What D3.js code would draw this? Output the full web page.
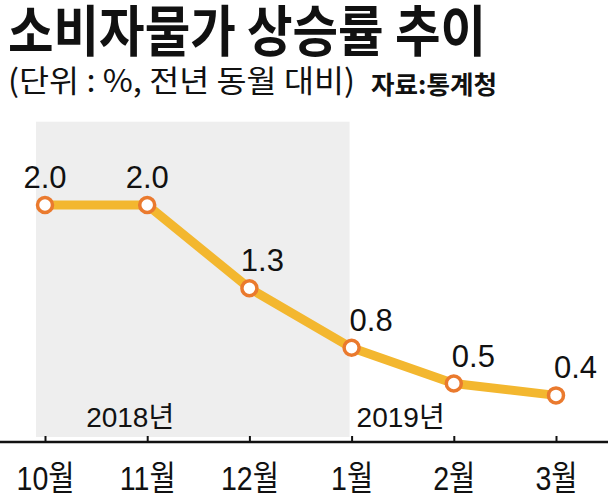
<!DOCTYPE html>
<html><head><meta charset="utf-8">
<script src="https://cdn.jsdelivr.net/npm/d3@7"></script>
<style>body{margin:0;background:#fff}svg{display:block}text{font-family:"Noto Sans CJK KR","Noto Sans",sans-serif}
.num{font-family:"Liberation Sans","Noto Sans CJK KR",sans-serif}</style>
</head><body>
<script>
const months = ["10월","11월","12월","1월","2월","3월"];
const values = [2.0, 2.0, 1.3, 0.8, 0.5, 0.4];
const labels = ["2.0","2.0","1.3","0.8","0.5","0.4"];
const years = ["2018년","2019년"];
const title = "소비자물가 상승률 추이";
const subtitle = "(단위 : %, 전년 동월 대비)";
const source = "자료:통계청";

const W = 608, H = 495;
const svg = d3.select("body").append("svg").attr("width", W).attr("height", H);

const x = d3.scalePoint().domain(months).range([45, 556]);
const y = d3.scaleLinear().domain([0, 2]).range([443, 205]);

// shaded 2018 region
svg.append("rect")
  .attr("x", x(months[0]) - 9).attr("y", y(2.7))
  .attr("width", x(months[3]) - 2 - (x(months[0]) - 9))
  .attr("height", 437 - y(2.7))
  .attr("fill", "#eeeeee");

// title
svg.append("text").attr("x", 8).attr("y", 51)
  .attr("font-size", 55).attr("font-weight", 700)
  .attr("textLength", 478).attr("lengthAdjust", "spacingAndGlyphs")
  .attr("fill", "#111").text(title);
svg.append("text").attr("x", 8).attr("y", 92)
  .attr("font-size", 31).attr("font-weight", 400)
  .attr("textLength", 347).attr("lengthAdjust", "spacingAndGlyphs")
  .attr("fill", "#111").text(subtitle);
svg.append("text").attr("x", 371).attr("y", 94)
  .attr("font-size", 25).attr("font-weight", 700)
  .attr("textLength", 126).attr("lengthAdjust", "spacingAndGlyphs")
  .attr("fill", "#111").text(source);

// axis
const axis = svg.append("g").attr("transform", `translate(0,442)`)
  .call(d3.axisBottom(x).tickSize(-6).tickSizeOuter(0));
axis.select(".domain").remove();
axis.selectAll(".tick line").attr("stroke", "#111").attr("stroke-width", 2);
axis.selectAll(".tick text")
  .attr("class", "num")
  .attr("y", 48).attr("dy", 0)
  .attr("font-size", 34).attr("fill", "#111")
  .attr("font-family", null)
  .attr("transform", "scale(0.84,1)");
svg.append("line").attr("x1", 0).attr("x2", W).attr("y1", 442).attr("y2", 442)
  .attr("stroke", "#111").attr("stroke-width", 2.5);

// year labels
svg.append("text").attr("class", "num")
  .attr("x", x(months[1]) - 17).attr("y", 427)
  .attr("text-anchor", "middle").attr("font-size", 28).attr("fill", "#111").text(years[0]);
svg.append("text").attr("class", "num")
  .attr("x", x(months[3]) + 5).attr("y", 427)
  .attr("text-anchor", "start").attr("font-size", 28).attr("fill", "#111").text(years[1]);

// line
const data = months.map((m, i) => ({m, v: values[i], l: labels[i]}));
svg.append("path").datum(data)
  .attr("d", d3.line().x(d => x(d.m)).y(d => y(d.v)))
  .attr("fill", "none").attr("stroke", "#F3B72F").attr("stroke-width", 9)
  .attr("stroke-linejoin", "round");

svg.selectAll("circle.pt").data(data).enter().append("circle")
  .attr("class", "pt")
  .attr("cx", d => x(d.m)).attr("cy", d => y(d.v)).attr("r", 7.5)
  .attr("fill", "#fff").attr("stroke", "#EA7A2E").attr("stroke-width", 3.5);

// value labels
const anchorOf = i => i < 3 ? "middle" : "start";
const dxOf = i => i === 2 ? 13 : (i < 3 ? 0 : -2);
svg.selectAll("text.val").data(data).enter().append("text")
  .attr("class", "val num")
  .attr("x", (d, i) => x(d.m) + dxOf(i)).attr("y", d => y(d.v) - 17)
  .attr("text-anchor", (d, i) => anchorOf(i))
  .attr("font-size", 31).attr("fill", "#111")
  .text(d => d.l);
</script>
</body></html>
